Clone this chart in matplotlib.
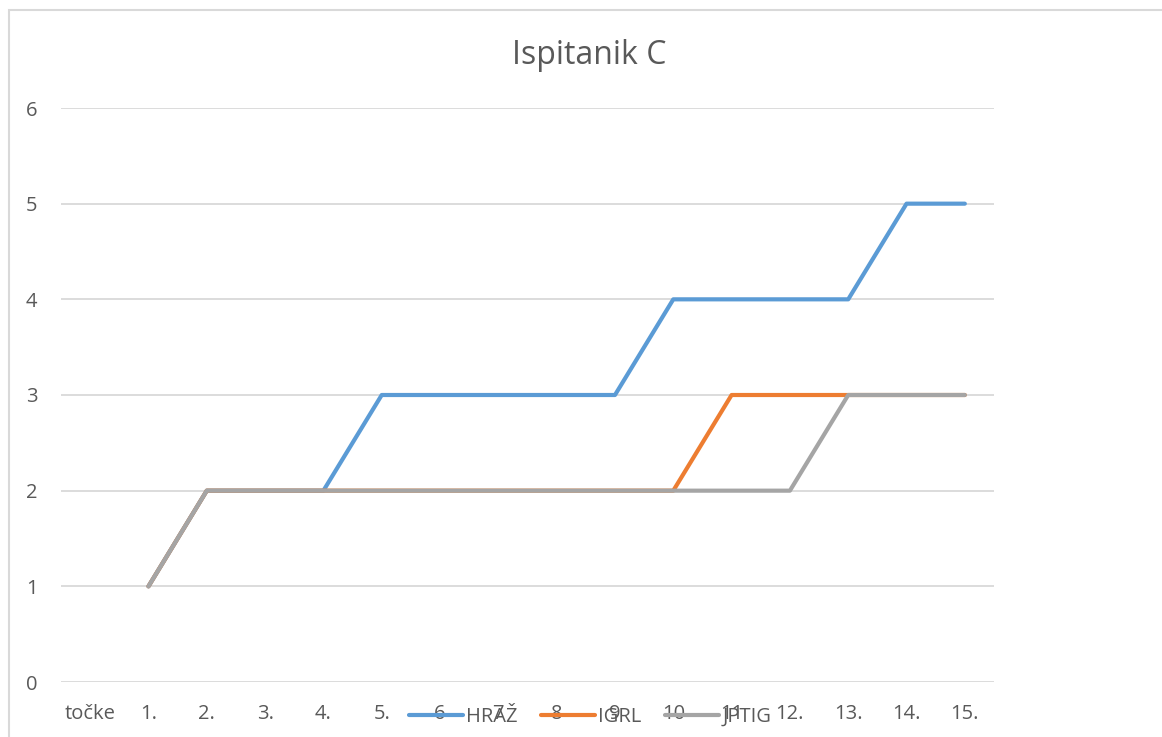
import numpy as np
import matplotlib
matplotlib.use("Agg")
import matplotlib.pyplot as plt
from matplotlib.patches import Rectangle

categories = ["točke", "1.", "2.", "3.", "4.", "5.", "6", "7", "8", "9", "10", "11", "12.", "13.", "14.", "15."]
hraz = [np.nan, 1, 2, 2, 2, 3, 3, 3, 3, 3, 4, 4, 4, 4, 5, 5]
igrl = [np.nan, 1, 2, 2, 2, 2, 2, 2, 2, 2, 2, 3, 3, 3, 3, 3]
jptig = [np.nan, 1, 2, 2, 2, 2, 2, 2, 2, 2, 2, 2, 2, 3, 3, 3]
series = [("HRAŽ", hraz, "#5B9BD5"), ("IGRL", igrl, "#ED7D31"), ("JPTIG", jptig, "#A5A5A5")]

plt.rcParams["font.family"] = ["Open Sans", "DejaVu Sans"]
txt = "#595959"
W, H = 1162, 737

fig = plt.figure(figsize=(W / 100, H / 100), dpi=100)
# chart frame (cropped on the right/bottom)
fig.patches.append(Rectangle((9 / W, -0.1), 1.2, 1 - 10 / H + 0.1, transform=fig.transFigure,
                             fill=False, edgecolor="#D9D9D9", lw=1.5))

ax = fig.add_axes([61 / W, 1 - 682 / H, (994 - 61) / W, (682 - 108) / H])
x = np.arange(len(categories))
for name, vals, col in series:
    ax.plot(x, vals, color=col, lw=3.0, label=name, solid_capstyle="round")

ax.set_xlim(-0.5, len(categories) - 0.5)
ax.set_ylim(0, 6)
ax.set_yticks(range(0, 7))
ax.set_xticks(x)
ax.set_xticklabels(categories)
ax.grid(axis="y", color="#D9D9D9", lw=1.3)
ax.set_axisbelow(True)
for s in ax.spines.values():
    s.set_visible(False)
ax.tick_params(axis="both", length=0, labelsize=14.5, labelcolor=txt)
ax.tick_params(axis="x", pad=16)
ax.tick_params(axis="y", pad=17)

fig.text(589 / W, 1 - 55 / H, "Ispitanik C", ha="center", va="center", fontsize=23, color=txt)

leg = fig.legend(loc="center", bbox_to_anchor=(590 / W, 1 - 717 / H), ncol=3, frameon=False,
                 fontsize=14.5, handlelength=2.7, handletextpad=0.15, columnspacing=1.15)
for t in leg.get_texts():
    t.set_color(txt)

fig.savefig("out.png", dpi=100)
